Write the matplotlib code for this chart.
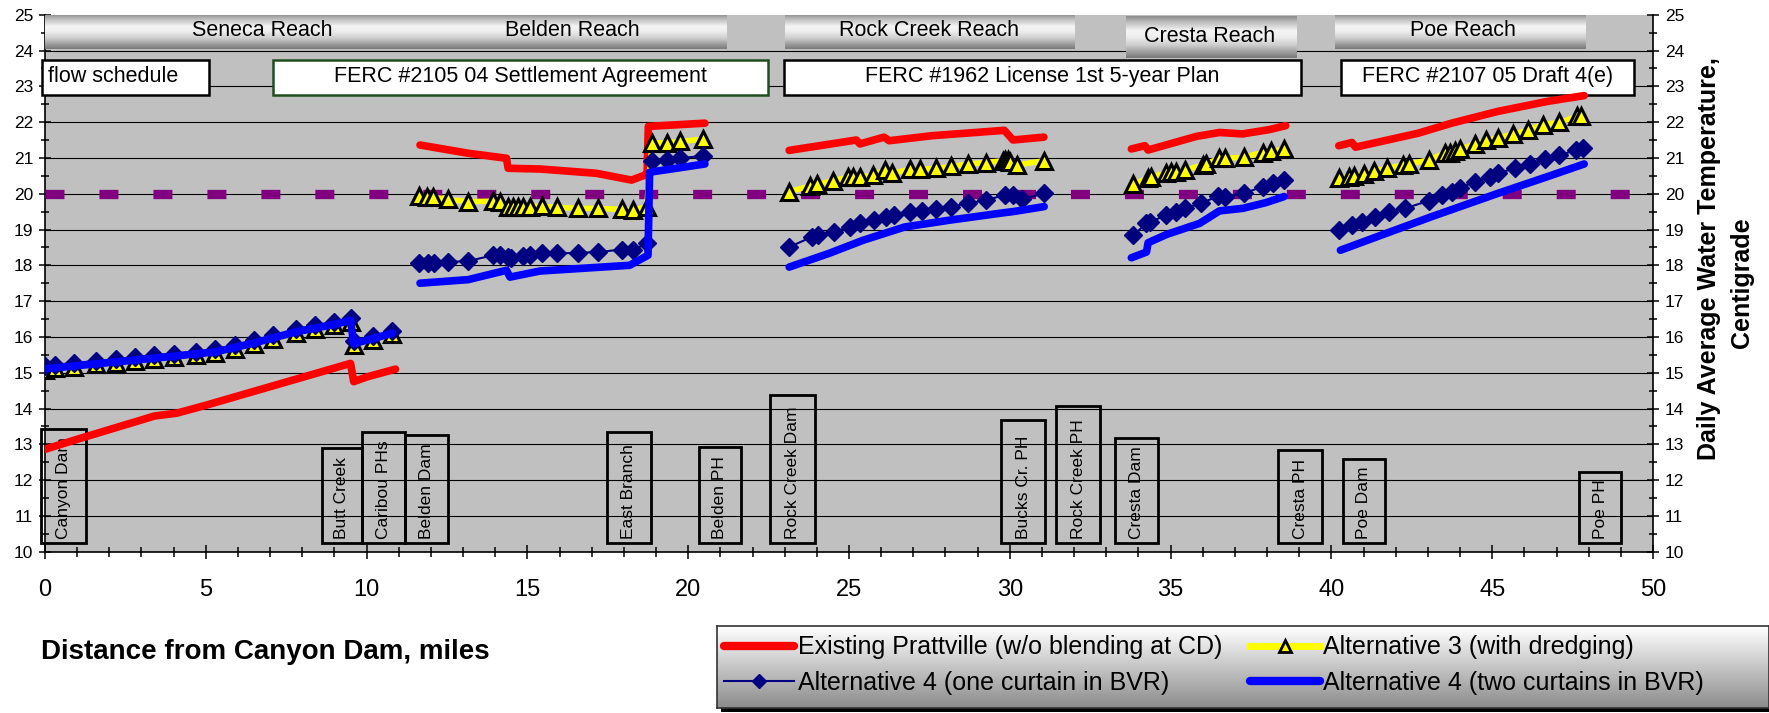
# -*- coding: utf-8 -*-
import numpy as np
import matplotlib
matplotlib.use('Agg')
from matplotlib import pyplot as plt
from matplotlib.patches import Rectangle
from matplotlib.lines import Line2D

plt.rcParams['font.family'] = ['Liberation Sans', 'DejaVu Sans']

nan = np.nan

# ---- data (miles from Canyon Dam, deg C), nan = break between reaches ----
# Existing Prattville (w/o blending at CD)
red_x = [0, 1, 2, 3, 3.4, 4.1, 5, 6, 7, 8, 9, 9.5, 9.6, 10, 10.9, nan,
         11.66, 13.16, 14.35, 14.4, 15.39, 17.15, 18.24, 18.65, 18.72, 18.76, 20.52, nan,
         23.14, 25.23, 25.34, 26.09, 26.25, 27.58, 29.83, 30.1, 31.06, nan,
         33.78, 34.2, 34.3, 35.8, 36.52, 37.24, 38.07, 38.58, nan,
         40.23, 40.64, 40.75, 42.7, 43.74, 45.18, 46.73, 47.86]
red_y = [12.86, 13.14, 13.41, 13.68, 13.79, 13.87, 14.09, 14.35, 14.61, 14.87, 15.13, 15.26, 14.75, 14.88, 15.1, nan,
         21.36, 21.13, 20.99, 20.71, 20.69, 20.57, 20.38, 20.52, 20.5, 21.88, 21.97, nan,
         21.21, 21.5, 21.39, 21.58, 21.48, 21.62, 21.77, 21.5, 21.58, nan,
         21.25, 21.34, 21.22, 21.6, 21.71, 21.67, 21.79, 21.9, nan,
         21.34, 21.43, 21.3, 21.69, 21.97, 22.3, 22.58, 22.74]

# Alternative 3 (with dredging)
alt3_x = [0, 0.3, 0.9, 1.6, 2.2, 2.8, 3.4, 4.0, 4.7, 5.3, 5.9, 6.5, 7.1, 7.8, 8.4, 9.0, 9.5, 9.6, 10.2, 10.8, nan,
          11.64, 11.87, 12.07, 12.54, 13.16, 13.94, 14.15, 14.4, 14.55, 14.7, 14.87, 15.08, 15.44, 15.91, 16.58,
          17.2, 17.93, 18.29, 18.71, 18.87, 19.34, 19.75, 20.47, nan,
          23.14, 23.78, 24.0, 24.5, 24.96, 25.12, 25.34, 25.74, 26.11, 26.35, 26.89, 27.21, 27.69, 28.18, 28.71,
          29.25, 29.78, 29.86, 29.94, 30.02, 30.21, 31.07, nan,
          33.84, 34.3, 34.4, 34.87, 35.02, 35.18, 35.44, 36.0, 36.1, 36.52, 36.68, 37.29, 37.86, 38.12, 38.53, nan,
          40.23, 40.54, 40.69, 41.0, 41.31, 41.73, 42.24, 42.4, 43.02, 43.53, 43.69, 43.84, 44.0, 44.46, 44.82,
          45.18, 45.64, 46.11, 46.57, 47.09, 47.65, 47.76]
alt3_y = [15.08, 15.12, 15.17, 15.23, 15.27, 15.34, 15.39, 15.43, 15.49, 15.55, 15.67, 15.8, 15.94, 16.11, 16.22, 16.32, 16.43, 15.78, 15.92, 16.07, nan,
          19.93, 19.92, 19.9, 19.84, 19.78, 19.79, 19.78, 19.64, 19.62, 19.63, 19.64, 19.64, 19.65, 19.62, 19.59,
          19.59, 19.56, 19.54, 19.64, 21.41, 21.43, 21.46, 21.52, nan,
          20.06, 20.21, 20.26, 20.36, 20.46, 20.48, 20.46, 20.52, 20.66, 20.57, 20.68, 20.68, 20.71, 20.76, 20.83,
          20.87, 20.92, 20.93, 20.94, 20.88, 20.8, 20.92, nan,
          20.27, 20.43, 20.48, 20.57, 20.62, 20.62, 20.66, 20.8, 20.83, 20.99, 20.99, 21.02, 21.15, 21.18, 21.24, nan,
          20.43, 20.48, 20.5, 20.55, 20.64, 20.71, 20.8, 20.83, 20.94, 21.13, 21.15, 21.18, 21.24, 21.39, 21.49,
          21.55, 21.67, 21.77, 21.93, 21.99, 22.16, 22.18]

# Alternative 4 (one curtain in BVR)
alt4a_x = [0, 0.3, 0.9, 1.6, 2.2, 2.8, 3.4, 4.0, 4.7, 5.3, 5.9, 6.5, 7.1, 7.8, 8.4, 9.0, 9.5, 9.6, 10.2, 10.8, nan,
           11.64, 11.9, 12.1, 12.54, 13.16, 13.94, 14.15, 14.4, 14.5, 14.87, 15.08, 15.44, 15.91, 16.58, 17.2,
           17.93, 18.29, 18.71, 18.87, 19.34, 19.75, 20.47, nan,
           23.14, 23.84, 24.05, 24.53, 25.02, 25.34, 25.77, 26.14, 26.41, 26.89, 27.27, 27.69, 28.18, 28.71,
           29.25, 29.84, 30.1, 30.37, 31.07, nan,
           33.84, 34.25, 34.36, 34.87, 35.18, 35.44, 35.95, 36.46, 36.68, 37.29, 37.86, 38.17, 38.53, nan,
           40.23, 40.64, 40.95, 41.36, 41.78, 42.29, 43.02, 43.43, 43.74, 44.0, 44.46, 44.92, 45.18, 45.7,
           46.16, 46.63, 47.09, 47.6, 47.81]
alt4a_y = [15.18, 15.22, 15.27, 15.33, 15.37, 15.44, 15.49, 15.53, 15.59, 15.65, 15.77, 15.9, 16.04, 16.21, 16.32, 16.42, 16.53, 15.88, 16.02, 16.17, nan,
           18.07, 18.07, 18.07, 18.09, 18.12, 18.28, 18.28, 18.23, 18.19, 18.25, 18.28, 18.33, 18.33, 18.35, 18.37,
           18.44, 18.42, 18.61, 20.9, 20.94, 20.99, 21.06, nan,
           18.51, 18.79, 18.84, 18.93, 19.07, 19.17, 19.26, 19.36, 19.4, 19.5, 19.52, 19.56, 19.64, 19.73,
           19.82, 19.96, 19.96, 19.84, 20.01, nan,
           18.84, 19.17, 19.21, 19.4, 19.5, 19.59, 19.73, 19.93, 19.92, 20.01, 20.2, 20.29, 20.38, nan,
           19.0, 19.12, 19.21, 19.36, 19.5, 19.59, 19.8, 19.96, 20.06, 20.15, 20.34, 20.48, 20.57, 20.71,
           20.83, 20.96, 21.08, 21.21, 21.27]

# Alternative 4 (two curtains in BVR)
alt4b_x = [0, 2.2, 4.0, 5.3, 6.5, 7.8, 9.0, 9.5, 9.6, 10.8, nan,
           11.66, 13.16, 14.35, 14.46, 15.39, 18.18, 18.75, 18.8, 20.52, nan,
           23.14, 24.37, 25.44, 26.73, 28.12, 29.83, 30.1, 31.07, nan,
           33.78, 34.25, 34.3, 34.87, 35.9, 36.52, 37.24, 37.96, 38.53, nan,
           40.28, 40.85, 43.12, 45.18, 46.73, 47.86]
alt4b_y = [15.11, 15.3, 15.46, 15.58, 15.83, 16.14, 16.35, 16.46, 15.81, 16.1, nan,
           17.5, 17.6, 17.86, 17.67, 17.84, 18.0, 18.28, 20.6, 20.83, nan,
           17.95, 18.33, 18.7, 19.07, 19.26, 19.47, 19.5, 19.64, nan,
           18.21, 18.37, 18.63, 18.86, 19.17, 19.52, 19.59, 19.75, 19.92, nan,
           18.42, 18.61, 19.36, 20.01, 20.48, 20.83]

target_temp = 20

reach_names = ['Seneca Reach', 'Belden Reach', 'Rock Creek Reach', 'Cresta Reach', 'Poe Reach']
plan_names = ['flow schedule', 'FERC #2105 04 Settlement Agreement',
              'FERC #1962 License 1st 5-year Plan', 'FERC #2107 05 Draft 4(e)']
landmarks = ['Canyon Dam', 'Butt Creek', 'Caribou PHs', 'Belden Dam', 'East Branch', 'Belden PH',
             'Rock Creek Dam', 'Bucks Cr. PH', 'Rock Creek PH', 'Cresta Dam', 'Cresta PH', 'Poe Dam', 'Poe PH']

legend_labels = ['Existing Prattville (w/o blending at CD)', 'Alternative 3 (with dredging)',
                 'Alternative 4 (one curtain in BVR)', 'Alternative 4 (two curtains in BVR)']

# ---- figure ----
W, H = 1769, 713
fig = plt.figure(figsize=(W / 100, H / 100), dpi=100)
ax = fig.add_axes([45 / W, 1 - 551.7 / H, (1653 - 45) / W, (551.7 - 14.7) / H])
ax.set_facecolor('#C0C0C0')

# reach header bars (silver cylinders)
reach_box = [(0, 11.5, 24.05, 25.0), (11.5, 21.2, 24.05, 25.0), (23.0, 32.0, 24.05, 25.0),
             (33.6, 38.9, 23.78, 24.95), (40.1, 47.9, 24.05, 25.0)]
reach_text = [(6.75, 24.56), (16.4, 24.56), (27.5, 24.56), (36.2, 24.38), (44.1, 24.56)]
prof = np.interp(np.linspace(0, 1, 60), [0, 0.12, 0.35, 0.5, 0.7, 0.88, 1],
                 [0.55, 0.72, 0.96, 0.93, 0.8, 0.6, 0.48])
grad = np.repeat(prof[:, None, None], 3, axis=2)
for name, (x0, x1, y0, y1), (tx, ty) in zip(reach_names, reach_box, reach_text):
    ax.imshow(grad, extent=[x0, x1, y0, y1], aspect='auto', zorder=3, interpolation='bilinear')
    ax.text(tx, ty, name, ha='center', va='center', fontsize=15.5, zorder=4)

# flow schedule / license boxes
plan_box = [(-0.1, 5.1), (7.1, 22.47), (22.97, 39.06), (40.3, 49.4)]
plan_edge = ['black', '#1E4D1E', 'black', 'black']
for i, (name, (x0, x1), ec) in enumerate(zip(plan_names, plan_box, plan_edge)):
    ax.add_patch(Rectangle((x0, 22.77), x1 - x0, 0.96, facecolor='white', edgecolor=ec,
                           lw=1.8, zorder=3, clip_on=False))
    if i == 0:
        ax.text(x0 + 0.2, 23.28, name, ha='left', va='center', fontsize=15.5, zorder=4)
    else:
        ax.text((x0 + x1) / 2, 23.28, name, ha='center', va='center', fontsize=15.5, zorder=4)

# landmark boxes along the bottom
lm_box = [(-0.11, 1.26, 13.42), (8.62, 9.85, 12.91), (9.85, 11.18, 13.33), (11.18, 12.52, 13.27),
          (17.47, 18.84, 13.34), (20.34, 21.63, 12.92), (22.55, 23.94, 14.39), (29.74, 31.11, 13.67),
          (31.44, 32.82, 14.06), (33.26, 34.6, 13.18), (38.35, 39.72, 12.83), (40.35, 41.67, 12.59),
          (47.71, 49.01, 12.22)]
for name, (x0, x1, top) in zip(landmarks, lm_box):
    ax.add_patch(Rectangle((x0, 10.23), x1 - x0, top - 10.23, fill=False, edgecolor='black',
                           lw=2, zorder=2.5, clip_on=False))
    ax.text((x0 + x1) / 2, 10.36, name, rotation=90, ha='center', va='bottom',
            fontsize=12.5, zorder=2.6)

# 20 C target line
ax.axhline(target_temp, color='#800080', lw=6.7, dashes=(2.04, 3.76), zorder=2.7)

# the four model runs
h_red, = ax.plot(red_x, red_y, color='#FF0000', lw=5.5, solid_capstyle='round', zorder=5)
h_alt3, = ax.plot(alt3_x, alt3_y, color='#FFFF00', lw=4, marker='^', ms=11.5, mfc='#FFFF00',
                  mec='black', mew=2.2, zorder=6)
h_alt4a, = ax.plot(alt4a_x, alt4a_y, color='#000080', lw=1.5, marker='D', ms=9, mfc='#000080',
                   mec='#000080', zorder=7)
h_alt4b, = ax.plot(alt4b_x, alt4b_y, color='#0000FF', lw=5.5, solid_capstyle='round', zorder=8)

# axes
ax.set_xlim(0, 50)
ax.set_ylim(10, 25)
ax.set_xticks(np.arange(0, 51, 5))
ax.set_xticks(np.arange(0, 51, 1), minor=True)
ax.set_yticks(np.arange(10, 26, 1))
ax.set_yticks(np.arange(10.5, 25, 1), minor=True)
ax.grid(axis='y', which='major', color='black', lw=0.8)
ax.set_axisbelow(True)
ax.yaxis.get_major_ticks()[-1].gridline.set_visible(False)
ax.spines['top'].set_visible(False)
for s in ['left', 'right', 'bottom']:
    ax.spines[s].set_linewidth(1.2)
ax.tick_params(axis='y', which='major', direction='inout', length=9, width=1.1, left=True,
               right=True, labelleft=True, labelright=True, labelsize=12.5, pad=4)
ax.tick_params(axis='y', which='minor', direction='inout', length=5.5, width=1.1, left=True, right=True)
ax.tick_params(axis='x', which='major', direction='inout', length=9.5, width=1.1, labelsize=17, pad=15)
ax.tick_params(axis='x', which='minor', direction='inout', length=6.5, width=1.1)

fig.text(41 / W, 1 - 652 / H, 'Distance from Canyon Dam, miles', fontsize=20,
         fontweight='bold', ha='left', va='center')
fig.text(1709 / W, 1 - 259 / H, 'Daily Average Water Temperature,', fontsize=18,
         fontweight='bold', rotation=90, ha='center', va='center')
fig.text(1742 / W, 1 - 282.5 / H, 'Centigrade', fontsize=18,
         fontweight='bold', rotation=90, ha='center', va='center')

# legend with gradient box and shadow
shadow = Rectangle((721 / W, 1 - 712 / H), 1 - 721 / W, (712 - 630) / H,
                   transform=fig.transFigure, facecolor='black', edgecolor='none', zorder=-1)
fig.patches.append(shadow)
lax = fig.add_axes([717 / W, 1 - 708 / H, 1 - 717 / W, (708 - 626) / H])
lgrad = np.repeat(np.linspace(1.0, 0.55, 50)[:, None, None], 3, axis=2)
lax.imshow(lgrad, extent=[0, 1, 0, 1], aspect='auto', interpolation='bilinear')
lax.set_xlim(0, 1)
lax.set_ylim(0, 1)
lax.set_xticks([])
lax.set_yticks([])
for s in lax.spines.values():
    s.set_color('#333333')
    s.set_linewidth(1.2)

leg_h = [Line2D([], [], color='#FF0000', lw=6, solid_capstyle='round'),
         Line2D([], [], color='#000080', lw=1.5, marker='D', ms=7, mfc='#000080', mec='#000080'),
         Line2D([], [], color='#FFFF00', lw=5, marker='^', ms=9, mfc='#FFFF00', mec='black', mew=2),
         Line2D([], [], color='#0000FF', lw=6, solid_capstyle='round')]
leg_l = [legend_labels[0], legend_labels[2], legend_labels[1], legend_labels[3]]
leg = fig.legend(leg_h, leg_l, loc='center left', bbox_to_anchor=(724 / W, 1 - 665 / H), ncol=2,
                 frameon=False, fontsize=18, handlelength=2.8, handletextpad=0.15, columnspacing=1.1,
                 labelspacing=0.45, borderpad=0, borderaxespad=0, numpoints=1)
leg.set_zorder(10)

fig.savefig('out.png', dpi=100)
